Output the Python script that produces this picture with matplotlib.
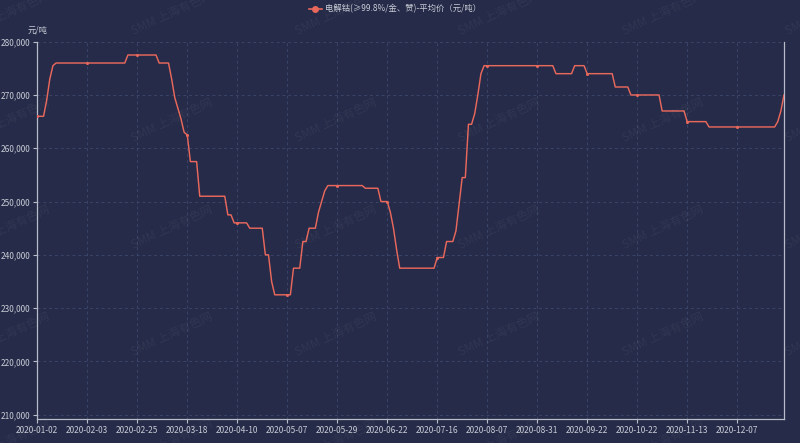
import matplotlib
matplotlib.use("Agg")
import matplotlib.pyplot as plt
from matplotlib.lines import Line2D

plt.rcParams['font.family'] = ['Noto Sans CJK SC', 'DejaVu Sans']

# ---- data ----
tick_labels = ["2020-01-02", "2020-02-03", "2020-02-25", "2020-03-18", "2020-04-10",
               "2020-05-07", "2020-05-29", "2020-06-22", "2020-07-16", "2020-08-07",
               "2020-08-31", "2020-09-22", "2020-10-22", "2020-11-13", "2020-12-07"]
label_step = 16  # trading days between labels

prices = [
    266000, 266000, 266000, 269000, 273000, 275500,
    276000, 276000, 276000, 276000, 276000, 276000, 276000, 276000, 276000, 276000,
    276000, 276000, 276000, 276000, 276000, 276000, 276000, 276000, 276000, 276000,
    276000, 276000, 276000,
    277500, 277500, 277500, 277500, 277500, 277500, 277500, 277500, 277500, 277500,
    276000, 276000, 276000, 276000,
    273000, 269500, 267500, 265500, 263000, 262500,
    257500, 257500, 257500,
    251000, 251000, 251000, 251000, 251000, 251000, 251000, 251000, 251000,
    247500, 247500,
    246000, 246000, 246000, 246000, 246000,
    245000, 245000, 245000, 245000, 245000,
    240000, 240000,
    235000,
    232500, 232500, 232500, 232500, 232500, 232500,
    237500, 237500, 237500,
    242500, 242500,
    245000, 245000, 245000,
    248000, 250000, 252000,
    253000, 253000, 253000, 253000, 253000, 253000, 253000, 253000, 253000, 253000,
    253000, 253000,
    252500, 252500, 252500, 252500, 252500,
    250000, 250000, 250000,
    248000, 245000, 241000,
    237500, 237500, 237500, 237500, 237500, 237500, 237500, 237500, 237500, 237500,
    237500, 237500,
    239500, 239500, 239500,
    242500, 242500, 242500,
    244500, 249500,
    254500, 254500,
    264500, 264500,
    266500, 270000, 274000,
    275500, 275500, 275500, 275500, 275500, 275500, 275500, 275500, 275500, 275500,
    275500, 275500, 275500, 275500, 275500, 275500, 275500, 275500, 275500, 275500,
    275500, 275500, 275500,
    274000, 274000, 274000, 274000, 274000, 274000,
    275500, 275500, 275500, 275500,
    274000, 274000, 274000, 274000, 274000, 274000, 274000, 274000, 274000,
    271500, 271500, 271500, 271500, 271500,
    270000, 270000, 270000, 270000, 270000, 270000, 270000, 270000, 270000, 270000,
    267000, 267000, 267000, 267000, 267000, 267000, 267000, 267000,
    265000, 265000, 265000, 265000, 265000, 265000, 265000,
    264000, 264000, 264000, 264000, 264000, 264000, 264000, 264000, 264000, 264000,
    264000, 264000, 264000, 264000, 264000, 264000, 264000, 264000, 264000, 264000,
    264000, 264000,
    265000, 267000, 270000,
]
series_name = "电解钴(≥99.8%/金、赞)-平均价（元/吨）"
y_unit = "元/吨"
y_ticks = [210000, 220000, 230000, 240000, 250000, 260000, 270000, 280000]
y_min, y_max = 209250, 280000

# ---- style ----
BG = "#252b48"
LINE = "#e8685c"
TXT = "#c9ccd6"
GRID = "#3a4468"
AXIS = "#b8bcc8"

fig = plt.figure(figsize=(8.0, 4.43), dpi=100, facecolor=BG)
ax = fig.add_axes([37.3 / 800, 1 - 418.7 / 443, (784 - 37.3) / 800, (418.7 - 41.7) / 443])
ax.set_facecolor(BG)

# watermarks (faint, repeated across the figure)
for yy in [13, 120, 227, 334, 441]:
    for xx in [8.5, 172, 335.5, 499, 662.5, 826]:
        fig.text(xx / 800, 1 - yy / 443, "SMM 上海有色网", rotation=25,
                 ha='center', va='center', fontsize=8.5, color='white', alpha=0.06,
                 zorder=0.5)

x = list(range(len(prices)))
ax.plot(x, prices, color=LINE, lw=1.05, zorder=3,
        marker='o', markevery=label_step, markersize=2.2, markeredgewidth=0)

ax.set_xlim(0, len(prices) - 1)
ax.set_ylim(y_min, y_max)

tick_pos = [i * label_step for i in range(len(tick_labels))]
ax.set_xticks(tick_pos)
ax.set_xticklabels(tick_labels)
ax.set_yticks(y_ticks)
ax.set_yticklabels([f"{v:,}" for v in y_ticks])

ax.tick_params(axis='both', colors=AXIS, labelcolor=TXT, labelsize=6, length=3, width=0.8)
ax.tick_params(axis='x', pad=2)
ax.tick_params(axis='y', pad=2)

ax.spines['top'].set_visible(False)
for s in ['left', 'bottom', 'right']:
    ax.spines[s].set_color(AXIS)
    ax.spines[s].set_linewidth(0.9)

ax.grid(True, color=GRID, lw=0.7, ls=(0, (3, 3)))
ax.set_axisbelow(True)

fig.text(37.3 / 800, 1 - 30 / 443, y_unit, ha='center', va='center', fontsize=6, color=TXT)

handle = Line2D([0], [0], color=LINE, lw=1.2, marker='o', markersize=5, markeredgewidth=0)
fig.legend([handle], [series_name], loc='center', bbox_to_anchor=(395 / 800, 1 - 9 / 443),
           frameon=False, fontsize=6, labelcolor=TXT, handlelength=1.6, handletextpad=0.4)

fig.savefig("out.png", dpi=100, facecolor=BG)
